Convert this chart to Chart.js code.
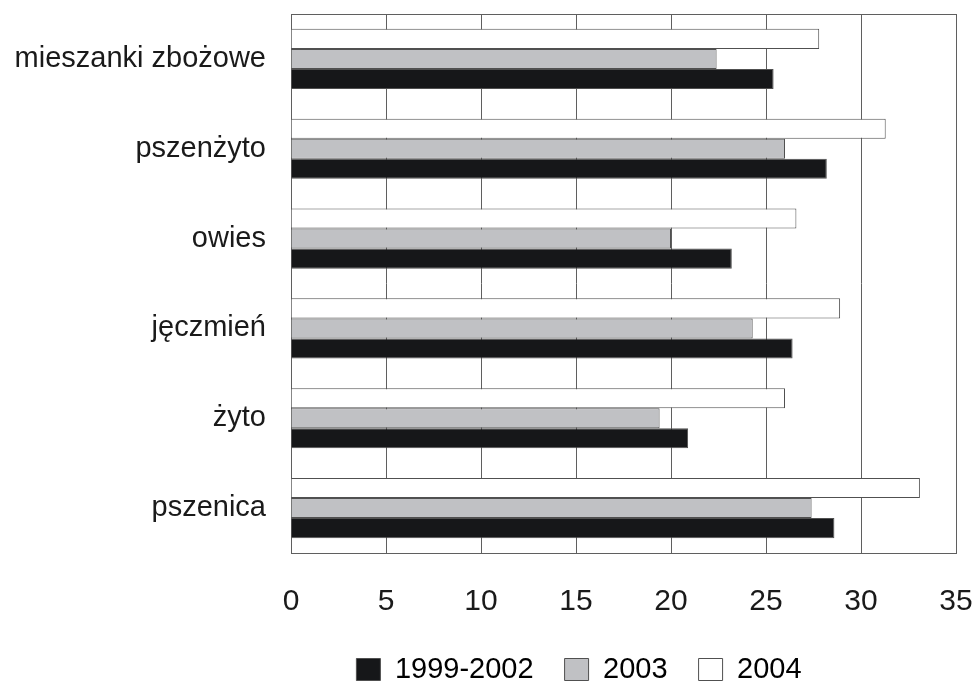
<!DOCTYPE html>
<html>
<head>
<meta charset="utf-8">
<script src="https://cdn.jsdelivr.net/npm/chart.js@4.4.0/dist/chart.umd.min.js"></script>
<style>
  html, body { margin: 0; padding: 0; background: #fff; }
  #wrap { width: 975px; height: 690px; }
</style>
</head>
<body>
<div id="wrap"><canvas id="barChart" width="975" height="690"></canvas></div>
<script>
// categories, top to bottom as in the picture
const categories = ['mieszanki zbożowe', 'pszenżyto', 'owies', 'jęczmień', 'żyto', 'pszenica'];

// series values
const values_1999_2002 = [25.4, 28.2, 23.2, 26.4, 20.9, 28.6];
const values_2003 = [22.4, 26.0, 20.0, 24.3, 19.4, 27.4];
const values_2004 = [27.8, 31.3, 26.6, 28.9, 26.0, 33.1];

// x axis tick labels
const xTicks = [0, 5, 10, 15, 20, 25, 30, 35];

const fontFamily = '"Liberation Sans", Arial, sans-serif';
const lineColor = '#5f5f5f';

// draws the box round the plot area
const frameBox = {
    id: 'frameBox',
    beforeDatasetsDraw(chart) {
        const a = chart.chartArea;
        const ctx = chart.ctx;
        ctx.save();
        ctx.strokeStyle = lineColor;
        ctx.lineWidth = 1;
        ctx.strokeRect(Math.round(a.left) + 0.5, Math.round(a.top) + 0.5,
            Math.round(a.right - a.left), Math.round(a.bottom - a.top));
        ctx.restore();
    }
};

// moves the legend to where it sits in the original
const legendShift = {
    id: 'legendShift',
    afterLayout(chart) {
        const lg = chart.legend;
        lg.left += 101;
        lg.right += 101;
        lg.top -= 27;
        lg.bottom -= 27;
    }
};

const ctx = document.getElementById('barChart').getContext('2d');
const myBarChart = new Chart(ctx, {
    type: 'bar',
    data: {
        labels: categories,
        datasets: [
            {
                label: '2004',
                data: values_2004,
                backgroundColor: '#ffffff',
                borderColor: '#505050',
                borderWidth: 1
            },
            {
                label: '2003',
                data: values_2003,
                backgroundColor: '#c0c1c4',
                borderColor: '#505050',
                borderWidth: 1
            },
            {
                label: '1999-2002',
                data: values_1999_2002,
                backgroundColor: '#161719',
                borderColor: '#505050',
                borderWidth: 1
            }
        ]
    },
    options: {
        indexAxis: 'y',
        responsive: false,
        animation: false,
        categoryPercentage: 0.67,
        barPercentage: 1.0,
        layout: {
            padding: { top: 14, right: 19, left: 0, bottom: -31 }
        },
        scales: {
            x: {
                min: 0,
                max: 35,
                afterBuildTicks: function(scale) {
                    scale.ticks = xTicks.map(v => ({ value: v }));
                },
                afterFit: function(scale) {
                    scale.paddingLeft = 0;
                    scale.paddingRight = 0;
                },
                grid: {
                    color: lineColor,
                    lineWidth: 1,
                    drawTicks: false
                },
                border: { display: true, color: lineColor },
                ticks: {
                    padding: 31,
                    color: '#1a1a1a',
                    font: { family: fontFamily, size: 30 }
                }
            },
            y: {
                grid: { display: false, drawTicks: false },
                border: { display: true, color: lineColor },
                afterFit: function(scale) {
                    scale.width = 291;
                    scale.paddingTop = 0;
                    scale.paddingBottom = 0;
                },
                ticks: {
                    padding: 25,
                    color: '#1a1a1a',
                    font: { family: fontFamily, size: 29 }
                }
            }
        },
        plugins: {
            legend: {
                position: 'bottom',
                reverse: true,
                labels: {
                    boxWidth: 24,
                    boxHeight: 22,
                    padding: 31,
                    color: '#1a1a1a',
                    font: { family: fontFamily, size: 29 },
                    generateLabels: function(chart) {
                        return chart.data.datasets.map((ds, i) => ({
                            text: ds.label,
                            fillStyle: ds.backgroundColor,
                            strokeStyle: '#505050',
                            lineWidth: 1,
                            datasetIndex: i,
                            hidden: false
                        }));
                    }
                }
            },
            tooltip: { enabled: false }
        }
    },
    plugins: [frameBox, legendShift]
});
</script>
</body>
</html>
